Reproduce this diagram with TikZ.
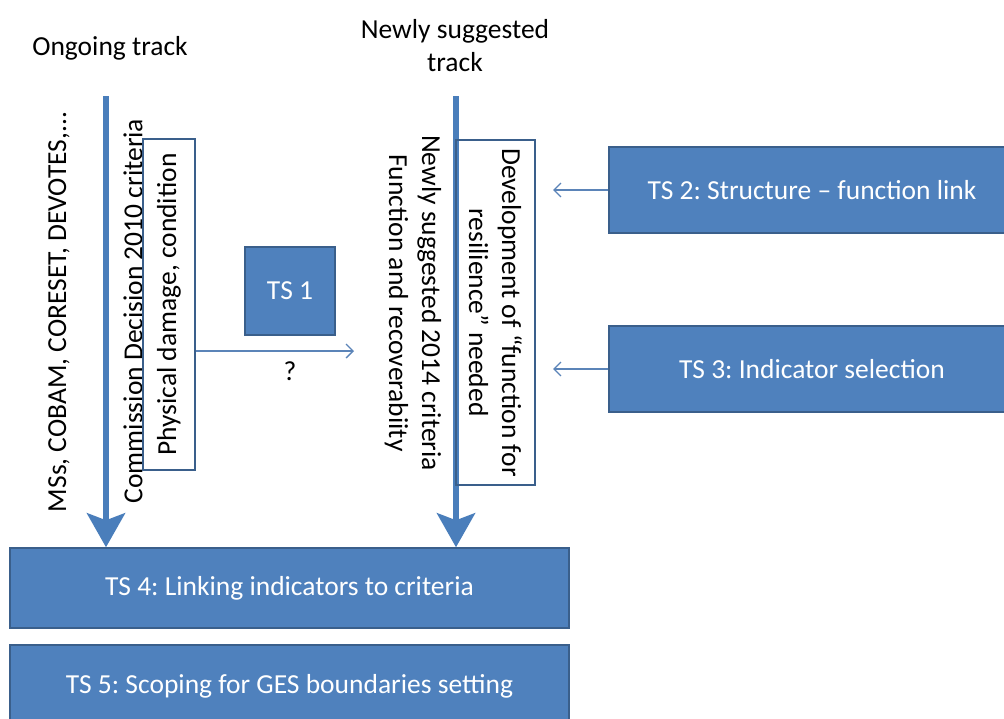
\documentclass[tikz,border=0pt]{standalone}
\usepackage{fontspec}
\setmainfont{Carlito}
\usetikzlibrary{arrows.meta}
\definecolor{boxblue}{HTML}{4F81BD}
\definecolor{boxedge}{HTML}{3A5F8B}
\definecolor{arrblue}{HTML}{4A7EBB}
\definecolor{thinblue}{HTML}{5B84B8}
\frenchspacing
\begin{document}
\begin{tikzpicture}[x=1pt,y=-1pt,
  every node/.style={font=\fontsize{27.5}{33}\selectfont, inner sep=0pt},
  lbl/.style={text=black, align=center},
  tsbox/.style={draw=boxedge, line width=1.5pt, fill=boxblue, text=white, align=center},
  frame/.style={draw=boxedge, line width=1.5pt, fill=white, text=black, align=center},
  bigarrow/.style={draw=arrblue, line width=6pt, -{Stealth[length=34pt,width=38pt,inset=7pt]}},
  thinarrow/.style={draw=thinblue, line width=1.3pt, -{Straight Barb[length=7pt,width=14pt]}}
]
\useasboundingbox (0,0) rectangle (1004,718);
\clip (0,0) rectangle (1004,718);

% headings
\node[lbl] (ongoing) at (110,48) {Ongoing track};
\node[lbl] (newly) at (455,46) {Newly suggested\\track};

% bottom boxes
\node[tsbox, minimum width=559pt, minimum height=80pt] (ts4) at (289.5,588) {TS 4: Linking indicators to criteria};
\node[tsbox, minimum width=559pt, minimum height=83pt] (ts5) at (289.5,686.5) {TS 5: Scoping for GES boundaries setting};

% right boxes
\node[tsbox, minimum width=406pt, minimum height=86pt] (ts2) at (812,190) {TS 2: Structure -- function link};
\node[tsbox, minimum width=406pt, minimum height=86pt] (ts3) at (812,369) {TS 3: Indicator selection};

% TS1
\node[tsbox, minimum width=90pt, minimum height=88pt] (ts1) at (290,291) {TS 1};

% thick arrows
\coordinate (ltop) at (106,96);
\coordinate (rtop) at (456,96);
\draw[bigarrow] (ltop) -- (ltop |- ts4.north);

% left texts
\node[lbl, rotate=90] (mss) at (59,312) {MSs, COBAM, CORESET, DEVOTES,...};
\node[lbl, rotate=90] (comm) at (133,311) {Commission Decision 2010 criteria};
\node[frame, rotate=90, minimum width=331pt, minimum height=52pt] (phys) at (169,304.5) {Physical damage,\ condition};

% right track
\draw[bigarrow] (rtop) -- (rtop |- ts4.north);
\node[lbl, rotate=-90] (new14) at (413,303) {Newly suggested 2014 criteria\\Function and recoverabiity};
\node[frame, rotate=-90, minimum width=345pt, minimum height=79pt, fill=none] (dev) at (495.5,312.5) {Development of “function for\\resilience” needed};

% thin arrows
\coordinate (qend) at (354,351);
\draw[thinarrow] (phys.south |- qend) -- (qend);
\node[lbl] (q) at (290,371) {?};
\coordinate (a2) at (553,190);
\coordinate (a3) at (553,369);
\draw[thinarrow] (ts2.west) -- (a2);
\draw[thinarrow] (ts3.west) -- (a3);
\end{tikzpicture}
\end{document}
